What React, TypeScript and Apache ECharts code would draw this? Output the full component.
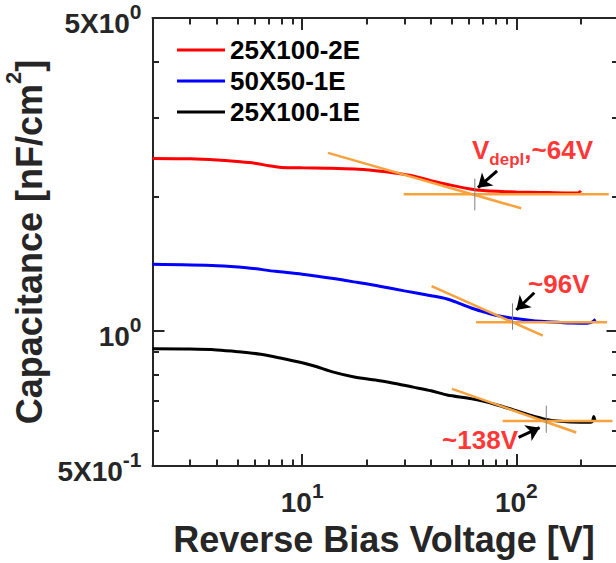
import { useEffect, useRef } from 'react';
import * as echarts from 'echarts';

const FONT = '"Liberation Sans", Arial, Helvetica, sans-serif';
const AXIS_COLOR = '#262626';
const FIT_COLOR = '#f7a23c';
const MARK_COLOR = '#808080';
const TICK_FONT = `bold 28px ${FONT}`;
const SUP_FONT = `bold 21px ${FONT}`;

// Measured C–V curves: [reverse bias (V), capacitance (nF/cm^2)]
const seriesNames = ['25X100-2E', '50X50-1E', '25X100-1E'];
const seriesColors = ['#ff0000', '#0000ff', '#000000'];

const cv25x100_2E = [
  [2, 2.43], [3, 2.425], [4, 2.41], [5, 2.39], [6, 2.37], [7, 2.34], [8, 2.32],
  [10, 2.315], [13, 2.31], [17.5, 2.3], [22, 2.28], [27, 2.255], [33, 2.22],
  [41, 2.16], [50, 2.115], [60, 2.08], [70, 2.06], [85, 2.05], [100, 2.045],
  [130, 2.04], [170, 2.035], [196, 2.035], [198, 2.048], [200, 2.038],
];

const cv50x50_1E = [
  [2, 1.41], [4, 1.4], [5.5, 1.385], [7.5, 1.36], [10, 1.34], [14, 1.31],
  [18, 1.285], [23, 1.26], [30, 1.23], [40, 1.2], [47.5, 1.18], [55, 1.15],
  [62, 1.125], [70, 1.105], [80, 1.085], [97, 1.068], [120, 1.055], [140, 1.05],
  [180, 1.043], [214, 1.041], [226, 1.048], [234, 1.063],
];

const cv25x100_1E = [
  [2, 0.913], [3, 0.912], [4, 0.908], [5, 0.9], [6.4, 0.888], [8, 0.87],
  [10, 0.85], [11.5, 0.835], [14, 0.81], [17.5, 0.79], [23, 0.775], [28, 0.762],
  [33, 0.75], [40, 0.736], [47.5, 0.72], [62, 0.706], [80, 0.686], [97, 0.667],
  [115, 0.65], [134, 0.637], [160, 0.629], [200, 0.626], [225, 0.627],
  [230, 0.645], [233, 0.628],
];

// Depletion-voltage construction: plateau fit, slope fit, marker
const depletionVoltages = [64, 96, 138];
const plateauFits = [
  [[29.8, 2.02], [270, 2.02]],
  [[64.9, 1.047], [265, 1.047]],
  [[86.3, 0.63], [281, 0.63]],
];
const slopeFits = [
  [[13.2, 2.5], [105.4, 1.88]],
  [[40.2, 1.26], [133, 0.977]],
  [[50.1, 0.743], [190.5, 0.594]],
];
const markerSpans = [
  [2.19, 1.86],
  [1.153, 1.007],
  [0.682, 0.593],
];
const arrowPaths = [
  [[81.3, 2.28], [66.2, 2.09]],
  [[121.3, 1.218], [100, 1.115]],
  [[102.5, 0.579], [128.5, 0.609]],
];
const annotationTexts = ['{v|V}{sub|depl}{v|,~64V}', '{v|~96V}', '{v|~138V}'];
const annotationAnchors = [
  [62.1, 2.505],
  [113.4, 1.274],
  [45, 0.571],
];

// Axis ranges and ticks
const xRange = [2, 300];
const yRange = [0.5, 5];
const xMinorTicks = [3, 4, 5, 6, 7, 8, 9, 20, 30, 40, 50, 60, 70, 80, 90, 200];
const xMajorTicks = [10, 100];
const xLabelTicks = [10, 100];
const yMinorTicks = [0.6, 0.7, 0.8, 0.9, 2, 3, 4];
const yMajorTicks = [1];
const yLabelTicks = [0.5, 1, 5];

// Split a tick value into "mX10" and its exponent
const powerParts = (v: number) => {
  const e = Math.floor(Math.log10(v) + 1e-9);
  const m = Math.round(v / Math.pow(10, e));
  return { base: m === 1 ? '10' : `${m}X10`, exp: `${e}` };
};

let measureCtx: CanvasRenderingContext2D | null = null;
const textWidth = (text: string, font: string, size: number) => {
  if (!measureCtx) measureCtx = document.createElement('canvas').getContext('2d');
  if (!measureCtx) return text.length * 0.56 * size;
  measureCtx.font = font;
  return measureCtx.measureText(text).width;
};

const lineAxis = { show: true, lineStyle: { color: AXIS_COLOR, width: 2 } };
const tickStyle = { color: AXIS_COLOR, width: 2 };

function makeXAxis(position: 'top' | 'bottom', major: boolean) {
  return {
    type: 'log',
    logBase: 10,
    min: xRange[0],
    max: xRange[1],
    position,
    axisLine: major ? { show: false } : lineAxis,
    axisTick: {
      show: true,
      inside: true,
      length: major ? 12 : 6.5,
      lineStyle: tickStyle,
      customValues: major ? xMajorTicks : xMinorTicks,
    },
    axisLabel: { show: false },
    splitLine: { show: false },
    minorTick: { show: false },
  };
}

function makeYAxis(position: 'left' | 'right', major: boolean) {
  return {
    type: 'log',
    logBase: 10,
    min: yRange[0],
    max: yRange[1],
    position,
    axisLine: major ? { show: false } : lineAxis,
    axisTick: {
      show: true,
      inside: true,
      length: major ? 12 : 6.5,
      lineStyle: tickStyle,
      customValues: major ? yMajorTicks : yMinorTicks,
    },
    axisLabel: { show: false },
    splitLine: { show: false },
    minorTick: { show: false },
  };
}

const titleGraphics = [
  {
    id: 'x-title',
    type: 'text',
    x: 384,
    y: 539,
    style: {
      text: 'Reverse Bias Voltage [V]',
      font: `bold 36px ${FONT}`,
      fill: AXIS_COLOR,
      align: 'center',
      verticalAlign: 'middle',
    },
  },
  {
    id: 'y-title',
    type: 'text',
    x: 24.5,
    y: 242,
    rotation: Math.PI / 2,
    style: {
      text: '{t|Capacitance [nF/cm}{s|2}{t|]}',
      align: 'center',
      verticalAlign: 'middle',
      rich: {
        t: {
          fontSize: 36, fontWeight: 'bold', fontFamily: FONT, fill: AXIS_COLOR,
          lineHeight: 36, verticalAlign: 'bottom',
        },
        s: {
          fontSize: 22, fontWeight: 'bold', fontFamily: FONT, fill: AXIS_COLOR,
          padding: [0, 0, 23, 0], verticalAlign: 'top',
        },
      },
    },
  },
];

function plainText(id: string, x: number, y: number, text: string, font: string, align: string) {
  return {
    id,
    type: 'text',
    x,
    y,
    z: 10,
    style: { text, font, fill: AXIS_COLOR, align, verticalAlign: 'middle' },
  };
}

// Power-of-ten tick labels at the pixel positions given by the log axes
function tickLabelGraphics(chart: echarts.ECharts) {
  const finder = { seriesIndex: 0 };
  const out: any[] = [];
  xLabelTicks.forEach((v, i) => {
    const [px, py] = chart.convertToPixel(finder, [v, yRange[0]]) as number[];
    const { base, exp } = powerParts(v);
    const bw = textWidth(base, TICK_FONT, 28);
    const sw = textWidth(exp, SUP_FONT, 21);
    const left = px - (bw + sw) / 2;
    out.push(plainText(`x-tick-b-${i}`, left, py + 36, base, TICK_FONT, 'left'));
    out.push(plainText(`x-tick-s-${i}`, left + bw, py + 24, exp, SUP_FONT, 'left'));
  });
  yLabelTicks.forEach((v, i) => {
    const [px, py] = chart.convertToPixel(finder, [xRange[0], v]) as number[];
    const { base, exp } = powerParts(v);
    const sw = textWidth(exp, SUP_FONT, 21);
    const right = px - 11;
    out.push(plainText(`y-tick-s-${i}`, right, py - 7, exp, SUP_FONT, 'right'));
    out.push(plainText(`y-tick-b-${i}`, right - sw, py + 5, base, TICK_FONT, 'right'));
  });
  return out;
}

function buildOption() {
  const curves = [cv25x100_2E, cv50x50_1E, cv25x100_1E].map((data, i) => ({
    type: 'line',
    name: seriesNames[i],
    data,
    smooth: 0.3,
    symbol: 'none',
    color: seriesColors[i],
    lineStyle: { color: seriesColors[i], width: 3 },
    z: 3,
  }));

  const fits = [...plateauFits, ...slopeFits].map((data) => ({
    type: 'line',
    data,
    symbol: 'none',
    silent: true,
    lineStyle: { color: FIT_COLOR, width: 2.5 },
    z: 4,
  }));

  const markers = depletionVoltages.map((v, i) => ({
    type: 'line',
    data: [
      [v, markerSpans[i][0]],
      [v, markerSpans[i][1]],
    ],
    symbol: 'none',
    silent: true,
    lineStyle: { color: MARK_COLOR, width: 1 },
    z: 5,
  }));

  const arrows = {
    type: 'lines',
    coordinateSystem: 'cartesian2d',
    data: arrowPaths.map((coords) => ({ coords })),
    symbol: ['none', 'arrow'],
    symbolSize: 13,
    lineStyle: { color: '#000000', width: 3, opacity: 1 },
    silent: true,
    z: 6,
  };

  const annotations = {
    type: 'scatter',
    symbolSize: 0,
    silent: true,
    data: annotationAnchors.map((p, i) => ({
      value: p,
      label: { formatter: annotationTexts[i] },
    })),
    label: {
      show: true,
      position: 'right',
      distance: 0,
      fontSize: 26,
      fontWeight: 'bold',
      fontFamily: FONT,
      color: '#ff0000',
      rich: {
        v: {
          fontSize: 26, fontWeight: 'bold', fontFamily: FONT, color: '#ff0000',
          lineHeight: 26, verticalAlign: 'top',
        },
        sub: {
          fontSize: 17, fontWeight: 'bold', fontFamily: FONT, color: '#ff0000',
          padding: [14, 0, 0, 0], verticalAlign: 'top',
        },
      },
    },
    z: 7,
  };

  return {
    animation: false,
    backgroundColor: '#ffffff',
    grid: { left: 152.5, top: 18, width: 466, height: 448, containLabel: false },
    xAxis: [
      makeXAxis('bottom', false),
      makeXAxis('bottom', true),
      makeXAxis('top', false),
      makeXAxis('top', true),
    ],
    yAxis: [
      makeYAxis('left', false),
      makeYAxis('left', true),
      makeYAxis('right', false),
      makeYAxis('right', true),
    ],
    legend: {
      data: seriesNames,
      orient: 'vertical',
      left: 177,
      top: 37,
      padding: 0,
      itemGap: 5,
      itemWidth: 48,
      itemHeight: 3,
      icon: 'rect',
      textStyle: {
        fontSize: 26, fontWeight: 'bold', fontFamily: FONT, color: '#000000',
      },
    },
    graphic: titleGraphics,
    series: [...curves, ...fits, ...markers, arrows, annotations],
  };
}

export default function App() {
  const ref = useRef<HTMLDivElement>(null);
  useEffect(() => {
    if (!ref.current) return;
    const chart = echarts.init(ref.current, null, { renderer: 'svg' });
    chart.setOption(buildOption() as any);
    chart.setOption({ graphic: [...titleGraphics, ...tickLabelGraphics(chart)] } as any);
    return () => chart.dispose();
  }, []);
  return (
    <div
      style={{
        position: 'fixed', left: 0, top: 0, width: 616, height: 563,
        overflow: 'hidden', background: '#ffffff',
      }}
    >
      <div ref={ref} style={{ width: 622, height: 563 }} />
    </div>
  );
}
